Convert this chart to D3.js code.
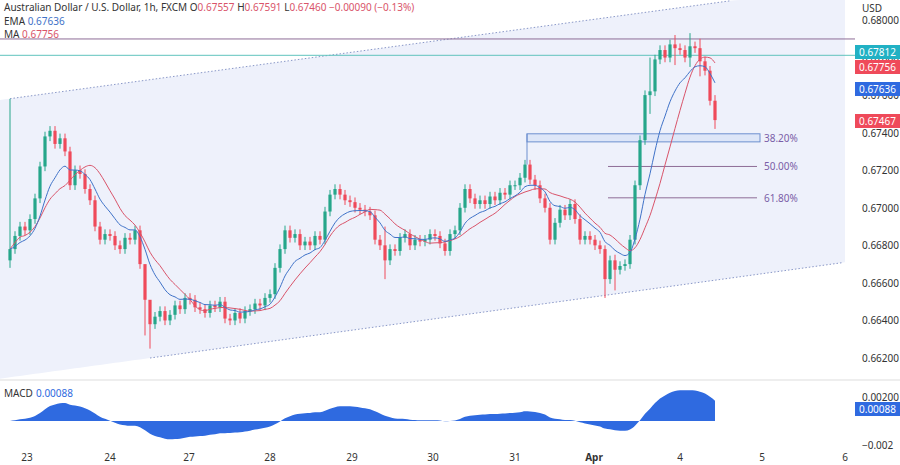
<!DOCTYPE html>
<html><head><meta charset="utf-8">
<script src="https://cdn.jsdelivr.net/npm/d3@7"></script>
<style>body{margin:0;background:#fff;font-family:"Noto Sans",sans-serif}</style>
</head><body><svg width="900" height="465"></svg>
<script>
// закрытия часовых свечей
const closes = [
.6678,.6685,.6690,.6688,.6694,.6705,.6722,.6738,.6741,.6734,.6737,.6730,.6712,.6720,.6718,.6710,.6704,.6690,.6683,.6686,
.6685,.6680,.6678,.6684,.6683,.6688,.6670,.6651,.6638,.6642,.6645,.6640,.6643,.6648,.6646,.6652,.6651,.6647,.6646,.6644,
.6648,.6647,.6650,.6641,.6640,.6644,.6641,.6645,.6646,.6649,.6648,.6652,.6654,.6668,.6678,.6688,.6684,.6686,.6680,.6682,
.6680,.6685,.6683,.6698,.6707,.6710,.6707,.6704,.6703,.6700,.6699,.6698,.6696,.6683,.6680,.6672,.6678,.6677,.6684,.6686,
.6680,.6683,.6682,.6683,.6686,.6685,.6681,.6677,.6686,.6688,.6700,.6710,.6705,.6702,.6704,.6702,.6706,.6704,.6708,.6707,
.6712,.6712,.6716,.6723,.6715,.6712,.6705,.6700,.6683,.6692,.6699,.6696,.6702,.6694,.6683,.6685,.6683,.6680,.6678,.6662,
.6672,.6667,.6669,.6670,.6683,.6712,.6736,.6760,.6762,.6779,.6784,.6780,.6787,.6785,.6784,.6780,.6786,.6785,.6778,.6773,
.6757,.67467];
const firstOpen = 0.6672;
// заметные тени: индекс -> [high, low]
const wicks = {0:[0.6758,0.6668],27:[0.6660,0.6632],28:[0.6648,0.6625],75:[0.6690,0.6662],119:[0.6680,0.6652],
  121:[0.6675,0.6656],128:[0.6780,0.6750],133:[0.6792,0.6776],136:[0.6793,0.6775],138:[0.6790,0.6770],141:[0.6760,0.67420]};
const dayLabels = ["23","24","27","28","29","30","31","Apr","4","5","6"];
const dayPos = [3.4,20,35.8,52,68.4,84.6,101,116.8,134,150.4,167];
const priceTicks = [0.680,0.678,0.676,0.674,0.672,0.670,0.668,0.666,0.664,0.662];
const channelUp = [[0,0.67581],[144,0.68102]];
const channelDn = [[28,0.66200],[169,0.66717]];
const fibs = [{lab:"38.20%",p:0.67372,x0:103.4},{lab:"50.00%",p:0.67220,x0:119.6},{lab:"61.80%",p:0.67053,x0:119.6}];
const lineHigh = 0.67899, lineTeal = 0.67812;

const svg = d3.select("svg");
const x = d3.scaleLinear().domain([0,170]).range([10,860]);
const y = d3.scaleLinear().domain([0.662,0.680]).range([358,20]);
const plotR = 855;

// свечи
let candles = closes.map((c,i)=>{
  const o = i==0 ? firstOpen : closes[i-1];
  const w = wicks[i] || [Math.max(o,c)+0.00025, Math.min(o,c)-0.00025];
  return {i,o,c,h:w[0],l:w[1]};
});

// индикаторы
function ema(arr,n){let k=2/(n+1),r=[],e=arr[0];arr.forEach((v,i)=>{e=i? v*k+e*(1-k):v;r.push(e)});return r;}
function sma(arr,n){return arr.map((v,i)=>{let s=arr.slice(Math.max(0,i-n+1),i+1);return d3.mean(s)});}
const emaL = ema(closes,9), maL = sma(closes,12);
const e12 = ema(closes,12), e26 = ema(closes,26);
const macd = closes.map((v,i)=>e12[i]-e26[i]);

const g = svg.append("g");
// канал
function lineAt(ch,xx){const [a,b]=ch;return a[1]+(b[1]-a[1])*(xx-a[0])/(b[0]-a[0]);}
const hx = d3.range(-2,168,1);
g.append("path").attr("fill","#eef1fb")
  .attr("d", d3.area().x(d=>x(d)).y0(d=>Math.min(379,y(lineAt(channelDn,d)))).y1(d=>Math.max(0,y(lineAt(channelUp,d))))(hx));
[channelUp,channelDn].forEach(ch=>{
  const a = ch==channelUp?0:28, b = ch==channelUp?144:166.5;
  g.append("line").attr("x1",x(a)).attr("y1",y(lineAt(ch,a))).attr("x2",x(b)).attr("y2",y(lineAt(ch,b)))
   .attr("stroke","#8a98c8").attr("stroke-dasharray","1.5,2").attr("stroke-width",1);
});
g.append("line").attr("x1",0).attr("x2",plotR).attr("y1",y(lineHigh)).attr("y2",y(lineHigh)).attr("stroke","#8e6c96").attr("stroke-width",1);
g.append("line").attr("x1",0).attr("x2",plotR).attr("y1",y(lineTeal)).attr("y2",y(lineTeal)).attr("stroke","#5fc4bd").attr("stroke-width",1);

// фибо
const fx1 = x(150);
g.append("rect").attr("x",x(103.4)).attr("width",fx1-x(103.4)).attr("y",y(0.67394)).attr("height",y(0.67351)-y(0.67394))
  .attr("fill","#dde6f8").attr("stroke","#6d8fcf");
g.append("line").attr("x1",x(103.4)).attr("x2",x(103.4)).attr("y1",y(0.67394)).attr("y2",y(0.67230)).attr("stroke","#6d8fcf");
fibs.slice(1).forEach(f=>g.append("line").attr("x1",x(f.x0)).attr("x2",fx1-3).attr("y1",y(f.p)).attr("y2",y(f.p)).attr("stroke","#8e6c96"));
fibs.forEach(f=>g.append("text").attr("x",fx1+4).attr("y",y(f.p)+4).attr("font-size",10).attr("fill","#7b5ea7").text(f.lab));

// свечи рисуем
const cw = 3.2;
const cg = g.selectAll(".c").data(candles).enter().append("g");
cg.append("line").attr("x1",d=>x(d.i)).attr("x2",d=>x(d.i)).attr("y1",d=>y(d.h)).attr("y2",d=>y(d.l))
  .attr("stroke",d=>d.c>=d.o?"#26a68a":"#ef4a5a").attr("stroke-width",1);
cg.append("rect").attr("x",d=>x(d.i)-cw/2).attr("width",cw).attr("y",d=>y(Math.max(d.o,d.c)))
  .attr("height",d=>Math.max(1,Math.abs(y(d.o)-y(d.c)))).attr("fill",d=>d.c>=d.o?"#26a68a":"#ef4a5a");

g.append("path").attr("fill","none").attr("stroke","#d9546a").attr("stroke-width",1)
  .attr("d",d3.line().x((d,i)=>x(i)).y(d=>y(d)).curve(d3.curveMonotoneX)(maL));
g.append("path").attr("fill","none").attr("stroke","#3f72c8").attr("stroke-width",1)
  .attr("d",d3.line().x((d,i)=>x(i)).y(d=>y(d)).curve(d3.curveMonotoneX)(emaL));

// правая ось
const ax = svg.append("g");
ax.selectAll("text").data(priceTicks).enter().append("text").attr("x",862).attr("y",d=>y(d)+4)
  .attr("font-size",10).attr("fill","#333").text(d=>d.toFixed(5));
ax.append("text").attr("x",862).attr("y",12).attr("font-size",10).attr("fill","#333").text("USD");
const badges = [{v:"0.67812",c:"#21b1c4",yy:52},{v:"0.67756",c:"#ef4a5a",yy:67},{v:"0.67636",c:"#2f6ae0",yy:89},{v:"0.67467",c:"#ef4a5a",yy:121}];
badges.forEach(b=>{
  ax.append("rect").attr("x",855).attr("y",b.yy-7).attr("width",45).attr("height",14).attr("fill",b.c);
  ax.append("text").attr("x",859).attr("y",b.yy+4).attr("font-size",10).attr("fill","#fff").text(b.v);
});

// MACD
svg.append("line").attr("x1",0).attr("x2",900).attr("y1",380).attr("y2",380).attr("stroke","#ddd");
const ym = d3.scaleLinear().domain([-0.002,0.002]).range([445,397]);
svg.append("path").attr("fill","#2f6ae0")
  .attr("d",d3.area().x((d,i)=>x(i)).y0(ym(0)).y1(d=>ym(d)).curve(d3.curveMonotoneX)(macd));
svg.append("text").attr("x",862).attr("y",ym(0.002)+4).attr("font-size",10).attr("fill","#333").text("0.00200");
svg.append("text").attr("x",862).attr("y",ym(-0.002)+4).attr("font-size",10).attr("fill","#333").text("−0.002");
svg.append("rect").attr("x",855).attr("y",402).attr("width",45).attr("height",14).attr("fill","#2f6ae0");
svg.append("text").attr("x",859).attr("y",413).attr("font-size",10).attr("fill","#fff").text("0.00088");
svg.append("text").attr("x",4).attr("y",397).attr("font-size",10).attr("fill","#333").text("MACD ");
svg.append("text").attr("x",36).attr("y",397).attr("font-size",10).attr("fill","#2f6ae0").text("0.00088");

// ось X
svg.selectAll(".dl").data(dayLabels).enter().append("text").attr("x",(d,i)=>x(dayPos[i])).attr("y",461)
  .attr("text-anchor","middle").attr("font-size",10).attr("fill","#333").attr("font-weight",d=>d=="Apr"?"bold":"normal").text(d=>d);

// легенда
const lg = svg.append("text").attr("x",4).attr("y",11).attr("font-size",10).attr("fill","#333");
lg.append("tspan").text("Australian Dollar / U.S. Dollar, 1h, FXCM  O");
[["0.67557"," H"],["0.67591"," L"],["0.67460"," "],["−0.00090 (−0.13%)",""]].forEach(p=>{
  lg.append("tspan").attr("fill","#d9546a").text(p[0]); lg.append("tspan").text(p[1]);
});
const l2 = svg.append("text").attr("x",4).attr("y",25).attr("font-size",10).attr("fill","#333");
l2.append("tspan").text("EMA "); l2.append("tspan").attr("fill","#3f72c8").text("0.67636");
const l3 = svg.append("text").attr("x",4).attr("y",38).attr("font-size",10).attr("fill","#333");
l3.append("tspan").text("MA "); l3.append("tspan").attr("fill","#d9546a").text("0.67756");
</script></body></html>
